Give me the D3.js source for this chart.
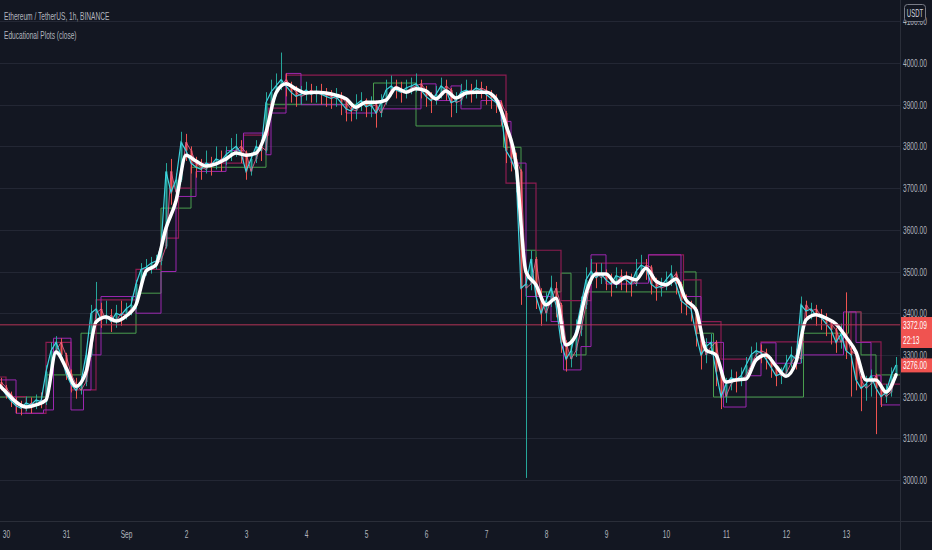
<!DOCTYPE html>
<html>
<head>
<meta charset="utf-8">
<script src="https://cdn.jsdelivr.net/npm/d3@7"></script>
<style>
  body { margin: 0; background: #131722; }
  svg text { font-family: "Liberation Sans", Arial, sans-serif; }
</style>
</head>
<body>
<svg id="chart" width="932" height="550"></svg>
<script>
// ETHUSDT, 2h bars starting Aug 29 22:00 UTC
var HOUR = 3600 * 1000;
var t0 = Date.UTC(2021, 7, 30);          // Aug 30 00:00
var barStartHour = -2, barStepHours = 2;

var closes = [
  3222, 3205, 3190, 3178, 3172, 3185, 3180, 3192, 3188, 3260,
  3310, 3330, 3300, 3255, 3230, 3215, 3235, 3300, 3400, 3410,
  3385, 3395, 3380, 3400, 3395, 3410, 3420, 3470, 3505, 3510,
  3520, 3525, 3560, 3740, 3690, 3720, 3810, 3790, 3760, 3750,
  3745, 3760, 3755, 3770, 3765, 3780, 3790, 3800, 3785, 3740,
  3770, 3800, 3790, 3905, 3930, 3945, 3960, 3945, 3930, 3920,
  3925, 3935, 3925, 3930, 3925, 3920, 3915, 3920, 3905, 3890,
  3885, 3900, 3910, 3895, 3900, 3880, 3905, 3935, 3945, 3935,
  3930, 3940, 3945, 3950, 3935, 3920, 3910, 3925, 3945, 3935,
  3905, 3910, 3930, 3935, 3930, 3940, 3935, 3925, 3915, 3905,
  3880, 3790, 3770, 3740, 3460, 3470, 3530, 3440, 3400, 3430,
  3460, 3420, 3330, 3290, 3310, 3360, 3420, 3480, 3500, 3485,
  3495, 3480, 3470, 3490, 3485, 3480, 3470, 3500, 3515, 3510,
  3470, 3460, 3465, 3480, 3495, 3470, 3430, 3420, 3410, 3350,
  3300, 3320, 3330, 3260, 3200, 3230, 3245, 3240, 3250, 3275,
  3300, 3310, 3305, 3290, 3270, 3250, 3255, 3280, 3300, 3290,
  3420, 3405, 3410, 3395, 3390, 3375, 3360, 3330, 3350, 3310,
  3300, 3240, 3220, 3230, 3250, 3220, 3200, 3210, 3250, 3276
];
var highs = [
  3245, 3228, 3212, 3198, 3190, 3200, 3198, 3205, 3210, 3275,
  3330, 3345, 3340, 3305, 3265, 3245, 3250, 3310, 3420, 3475,
  3425, 3430, 3410, 3420, 3430, 3425, 3440, 3480, 3520, 3530,
  3535, 3540, 3575, 3760, 3770, 3735, 3835, 3830, 3800, 3775,
  3770, 3790, 3775, 3800, 3790, 3800, 3820, 3830, 3815, 3790,
  3785, 3815, 3815, 3930, 3960, 3975, 4025, 3975, 3955, 3945,
  3945, 3955, 3950, 3945, 3950, 3940, 3935, 3940, 3930, 3910,
  3905, 3925, 3930, 3915, 3920, 3910, 3925, 3960, 3970, 3960,
  3955, 3960, 3965, 3975, 3960, 3945, 3930, 3945, 3965, 3960,
  3940, 3930, 3950, 3960, 3950, 3960, 3955, 3945, 3935, 3925,
  3910, 3885, 3810, 3785, 3745, 3500, 3550, 3535, 3460, 3450,
  3490, 3475, 3425, 3335, 3330, 3385, 3440, 3510, 3530, 3520,
  3520, 3505, 3495, 3510, 3505, 3500, 3495, 3530, 3540, 3530,
  3515, 3485, 3485, 3500, 3515, 3500, 3475, 3445, 3430, 3415,
  3355, 3340, 3350, 3335, 3265, 3245, 3265, 3260, 3270, 3295,
  3320, 3330, 3325, 3315, 3295, 3275, 3270, 3300, 3320, 3315,
  3440, 3430, 3425, 3420, 3410, 3400, 3385, 3365, 3375, 3450,
  3325, 3310, 3250, 3250, 3265, 3255, 3225, 3230, 3270, 3295
];
var lows = [
  3215, 3195, 3175, 3160, 3155, 3165, 3160, 3170, 3172, 3180,
  3255, 3300, 3285, 3240, 3210, 3195, 3205, 3225, 3295, 3385,
  3365, 3375, 3355, 3365, 3370, 3385, 3395, 3410, 3460, 3490,
  3495, 3505, 3515, 3555, 3660, 3680, 3715, 3765, 3735, 3725,
  3720, 3735, 3730, 3745, 3740, 3755, 3765, 3775, 3760, 3720,
  3730, 3760, 3765, 3785, 3895, 3920, 3935, 3920, 3905, 3895,
  3900, 3910, 3905, 3905, 3900, 3895, 3890, 3895, 3875, 3860,
  3860, 3865, 3885, 3870, 3870, 3845, 3870, 3900, 3920, 3915,
  3905, 3915, 3925, 3930, 3915, 3895, 3880, 3900, 3915, 3910,
  3870, 3880, 3900, 3915, 3905, 3915, 3915, 3900, 3890, 3880,
  3850, 3760, 3740, 3690, 3420, 3005, 3455, 3410, 3370, 3380,
  3415, 3390, 3305, 3260, 3270, 3295, 3345, 3410, 3470, 3460,
  3470, 3455, 3440, 3460, 3455, 3450, 3440, 3465, 3490, 3480,
  3445, 3430, 3440, 3455, 3465, 3445, 3400, 3395, 3380, 3320,
  3265, 3280, 3300, 3225, 3170, 3185, 3215, 3210, 3225, 3240,
  3265, 3285, 3280, 3265, 3245, 3225, 3230, 3250, 3270, 3265,
  3280, 3380, 3385, 3370, 3360, 3345, 3325, 3305, 3315, 3290,
  3200, 3215, 3165, 3190, 3200, 3110, 3175, 3185, 3200, 3245
];
var firstOpen = 3235;

// smoothed white line, one value every 4 hours from Aug 29 20:00
var maStartHour = -4, maStepHours = 4;
var maLine = [
  3235, 3211, 3187, 3175, 3180, 3192, 3307, 3269, 3225, 3259,
  3379, 3391, 3381, 3393, 3420, 3501, 3516, 3604, 3669, 3779,
  3765, 3753, 3758, 3770, 3784, 3779, 3784, 3834, 3928, 3950,
  3938, 3928, 3930, 3928, 3923, 3914, 3894, 3906, 3906, 3911,
  3940, 3930, 3938, 3933, 3914, 3933, 3916, 3928, 3930, 3930,
  3914, 3851, 3758, 3499, 3468, 3420, 3436, 3324, 3348, 3448,
  3494, 3494, 3472, 3487, 3480, 3508, 3477, 3468, 3482, 3432,
  3408, 3312, 3300, 3235, 3240, 3242, 3288, 3300, 3273, 3249,
  3283, 3384, 3396, 3388, 3374, 3343, 3307, 3240, 3240, 3211,
  3252
];

// step plots: [hour from Aug 30 00:00, price]
var greenSteps = [
  [-3, 3199], [16, 3252], [30, 3352], [52, 3448], [62, 3652], [74, 3750],
  [104, 3901], [147, 3952], [164, 3849], [199, 3798], [206, 3551], [212, 3451],
  [222, 3496], [226, 3300], [232, 3451], [271, 3499], [276, 3352], [283, 3199],
  [319, 3352], [337, 3403], [342, 3300], [348, 3252]
];
var maroonSteps = [
  [-4, 3247], [0, 3200], [8, 3160], [16, 3330], [26, 3216], [36, 3432],
  [52, 3505], [62, 3580], [69, 3700], [74, 3760], [95, 3827], [105, 3892],
  [112, 3971], [200, 3712], [212, 3551], [222, 3430], [234, 3520], [257, 3540],
  [271, 3480], [278, 3380], [286, 3290], [302, 3331], [338, 3403], [342, 3331],
  [350, 3230]
];
var purpleSteps = [
  [-4, 3240], [4, 3160], [15, 3168], [19, 3340], [26, 3168], [31, 3216],
  [34, 3300], [38, 3440], [52, 3400], [62, 3500], [68, 3680], [76, 3740],
  [88, 3790], [95, 3832], [104, 3780], [106, 3880], [112, 3975], [118, 3900],
  [136, 3880], [148, 3890], [166, 3950], [172, 3910], [178, 3945], [182, 3890],
  [190, 3910], [198, 3860], [202, 3760], [208, 3440], [218, 3380], [223, 3264],
  [230, 3320], [234, 3540], [240, 3470], [251, 3472], [257, 3540], [270, 3440],
  [278, 3330], [287, 3175], [296, 3250], [302, 3329], [308, 3280], [318, 3300],
  [335, 3403], [340, 3330], [346, 3250], [350, 3180]
];
var endHour = 358;

var priceTicks = [3000, 3100, 3200, 3300, 3400, 3500, 3600, 3700, 3800, 3900, 4000, 4100];
var dayLabels = ["30", "31", "Sep", "2", "3", "4", "5", "6", "7", "8", "9", "10", "11", "12", "13"];
var markPrice = 3372.09, countdown = "22:13", lastPrice = 3276.00;

var svg = d3.select("#chart");
var W = 900, H = 521;
var hourDate = function(h){ return new Date(t0 + h * HOUR); };

var x = d3.scaleUtc().domain([hourDate(-2.4), hourDate(357.6)]).range([0, W]);
var y = d3.scaleLinear().domain([3000, 4000]).range([480, 63]);

svg.append("rect").attr("width", 932).attr("height", 550).attr("fill", "#131722");

svg.append("clipPath").attr("id", "plotclip")
    .append("rect").attr("x", 0).attr("y", 0).attr("width", W).attr("height", H);

// grid
svg.append("g").selectAll("line").data(priceTicks).join("line")
    .attr("x1", 0).attr("x2", W)
    .attr("y1", function(d){ return Math.round(y(d)) + 0.5; })
    .attr("y2", function(d){ return Math.round(y(d)) + 0.5; })
    .attr("stroke", "#232734").attr("stroke-width", 1);

var plot = svg.append("g").attr("clip-path", "url(#plotclip)");

function stepPath(steps, color, width){
    var pts = steps.concat([[endHour, steps[steps.length - 1][1]]]);
    plot.append("path").datum(pts)
        .attr("fill", "none").attr("stroke", color).attr("stroke-width", width || 1)
        .attr("d", d3.line()
            .x(function(d){ return x(hourDate(d[0])); })
            .y(function(d){ return y(d[1]); })
            .curve(d3.curveStepAfter));
}
stepPath(greenSteps, "#4a9e4e", 1);
stepPath(maroonSteps, "#8c1c50", 1.2);
stepPath(purpleSteps, "#9c27b0", 1);

// candles
var bars = closes.map(function(c, i){
    return {
        t: hourDate(barStartHour + i * barStepHours),
        o: i === 0 ? firstOpen : closes[i - 1],
        h: highs[i], l: lows[i], c: c
    };
});
var cg = plot.append("g").selectAll("g").data(bars).join("g")
    .attr("stroke", function(d){ return d.c >= d.o ? "#26a69a" : "#ef5350"; })
    .attr("fill", function(d){ return d.c >= d.o ? "#26a69a" : "#ef5350"; });
cg.append("line")
    .attr("x1", function(d){ return Math.round(x(d.t)) + 0.5; })
    .attr("x2", function(d){ return Math.round(x(d.t)) + 0.5; })
    .attr("y1", function(d){ return y(d.h); })
    .attr("y2", function(d){ return y(d.l); })
    .attr("stroke-width", 1);
cg.append("rect")
    .attr("x", function(d){ return Math.round(x(d.t)) - 0.5; })
    .attr("width", 2)
    .attr("y", function(d){ return y(Math.max(d.o, d.c)); })
    .attr("height", function(d){ return Math.max(1, Math.abs(y(d.o) - y(d.c))); })
    .attr("stroke", "none");

// open line (pink) and close line (cyan)
plot.append("path").datum(bars)
    .attr("fill", "none").attr("stroke", "#f06292").attr("stroke-width", 1).attr("opacity", 0.85)
    .attr("d", d3.line().x(function(d){ return x(d.t); }).y(function(d){ return y(d.o); }));
plot.append("path").datum(bars)
    .attr("fill", "none").attr("stroke", "#3fd4e0").attr("stroke-width", 1.2)
    .attr("d", d3.line().x(function(d){ return x(d.t); }).y(function(d){ return y(d.c); }));

// smooth white line
plot.append("path").datum(maLine)
    .attr("fill", "none").attr("stroke", "#ffffff").attr("stroke-width", 3.5)
    .attr("stroke-linejoin", "round").attr("stroke-linecap", "round")
    .attr("d", d3.line()
        .x(function(d, i){ return x(hourDate(maStartHour + i * maStepHours)); })
        .y(function(d){ return y(d); })
        .curve(d3.curveMonotoneX));

// mark price line
svg.append("line").attr("x1", 0).attr("x2", W)
    .attr("y1", y(markPrice)).attr("y2", y(markPrice))
    .attr("stroke", "#b23456").attr("stroke-width", 1);

// axes borders
svg.append("line").attr("x1", W + 0.5).attr("x2", W + 0.5).attr("y1", 0).attr("y2", 550)
    .attr("stroke", "#2a2e39");
svg.append("line").attr("x1", 0).attr("x2", 932).attr("y1", H + 0.5).attr("y2", H + 0.5)
    .attr("stroke", "#2a2e39");

var SX = 0.6;

// price axis (4100 is mostly hidden behind the currency box, 3300 behind the last-price tag)
var yAxis = svg.append("g").attr("transform", "translate(903,0)")
    .call(d3.axisRight(y).tickValues(priceTicks).tickFormat(d3.format(".2f")).tickSize(0).tickPadding(0));
yAxis.select(".domain").remove();
yAxis.selectAll("text").attr("fill", "#b2b5be").attr("font-size", 11)
    .attr("font-family", "Liberation Sans, Arial, sans-serif")
    .attr("transform", "scale(" + SX + ",1)");

// time axis
var dayTicks = dayLabels.map(function(d, i){ return hourDate(i * 24); });
var xAxis = svg.append("g").attr("transform", "translate(0," + (H + 9) + ")")
    .call(d3.axisBottom(x).tickValues(dayTicks)
        .tickFormat(function(d, i){ return dayLabels[i]; }).tickSize(0).tickPadding(0));
xAxis.select(".domain").remove();
xAxis.selectAll("text").attr("fill", "#b2b5be").attr("font-size", 11)
    .attr("font-family", "Liberation Sans, Arial, sans-serif")
    .attr("transform", "scale(" + SX + ",1)");

function label(str, px, py, opts){
    opts = opts || {};
    return svg.append("text")
        .attr("transform", "translate(" + px + "," + py + ") scale(" + SX + ",1)")
        .attr("text-anchor", opts.anchor || "start")
        .attr("font-size", opts.size || 11)
        .attr("fill", opts.fill || "#b2b5be")
        .text(str);
}

// legend
label("Ethereum / TetherUS, 1h, BINANCE", 4, 20);
label("Educational Plots (close)", 4, 39);

// currency box
svg.append("rect").attr("x", 904.5).attr("y", 4.5).attr("width", 21).attr("height", 17).attr("rx", 3)
    .attr("fill", "#131722").attr("stroke", "#787b86");
label("USDT", 915, 16.5, {anchor: "middle", size: 10, fill: "#d1d4dc"});

// price tags
svg.append("rect").attr("x", 901).attr("y", 317).attr("width", 31).attr("height", 31).attr("fill", "#f05350");
label(d3.format(".2f")(markPrice), 903, 329, {fill: "#ffffff"});
label(countdown, 903, 344, {fill: "#ffffff"});
svg.append("rect").attr("x", 901).attr("y", y(lastPrice) - 6.5).attr("width", 31).attr("height", 14).attr("fill", "#f05350");
label(d3.format(".2f")(lastPrice), 903, y(lastPrice) + 4, {fill: "#ffffff"});
</script>
</body>
</html>
